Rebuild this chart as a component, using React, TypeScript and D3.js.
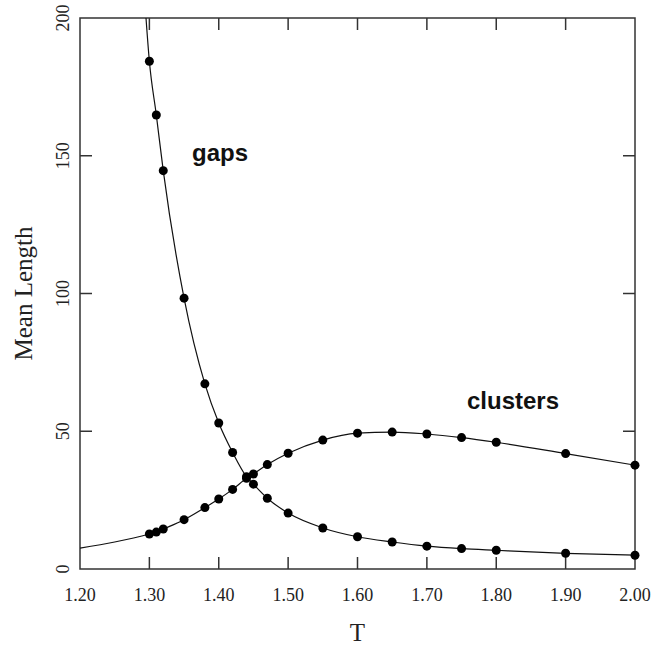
import * as d3 from 'd3'

// temperatures at which points were measured
const temps = [1.30, 1.31, 1.32, 1.35, 1.38, 1.40, 1.42, 1.44, 1.45, 1.47, 1.50, 1.55, 1.60, 1.65, 1.70, 1.75, 1.80, 1.90, 2.00]
const gaps = [184.3, 164.8, 144.6, 98.3, 67.2, 53.0, 42.3, 33.5, 30.8, 25.7, 20.3, 14.9, 11.7, 9.8, 8.3, 7.4, 6.8, 5.7, 5.0]
const clusters = [12.7, 13.4, 14.5, 17.9, 22.3, 25.4, 28.9, 32.9, 34.5, 37.9, 42.0, 46.8, 49.3, 49.7, 49.0, 47.7, 46.0, 41.9, 37.7]

// fitted curve continues beyond the measured points
const gapsLeadT = [1.294]
const gapsLead = [204]
const clustersLeadT = [1.20, 1.25]
const clustersLead = [7.6, 9.8]

const xTicks = [1.2, 1.3, 1.4, 1.5, 1.6, 1.7, 1.8, 1.9, 2.0]
const yTicks = [0, 50, 100, 150, 200]

export default function App() {
  const m = { left: 80, top: 18, right: 635, bottom: 569 }
  const x = d3.scaleLinear().domain([1.2, 2.0]).range([m.left, m.right])
  const y = d3.scaleLinear().domain([0, 200]).range([m.bottom, m.top])
  const line = d3.line<[number, number]>()
    .x(d => x(d[0])).y(d => y(d[1]))
    .curve(d3.curveMonotoneX)

  const gapPts: [number, number][] = temps.map((t, i) => [t, gaps[i]])
  const cluPts: [number, number][] = temps.map((t, i) => [t, clusters[i]])
  const gapLine = [...gapsLeadT.map((t, i) => [t, gapsLead[i]] as [number, number]), ...gapPts]
  const cluLine = [...clustersLeadT.map((t, i) => [t, clustersLead[i]] as [number, number]), ...cluPts]

  const serif = 'Liberation Serif, Times New Roman, serif'
  const sans = 'Liberation Sans, Arial, sans-serif'
  const tk = 12

  return (
    <svg width={670} height={646} style={{ position: 'absolute', left: 0, top: 0, background: '#fff' }}>
      <defs>
        <clipPath id="plot">
          <rect x={m.left} y={m.top} width={m.right - m.left} height={m.bottom - m.top} />
        </clipPath>
      </defs>
      <g stroke="#333" strokeWidth={1.5} fill="none">
        <rect x={m.left} y={m.top} width={m.right - m.left} height={m.bottom - m.top} />
        {xTicks.slice(1, -1).map(t => (
          <g key={t}>
            <line x1={x(t)} x2={x(t)} y1={m.bottom} y2={m.bottom - tk} />
            <line x1={x(t)} x2={x(t)} y1={m.top} y2={m.top + tk} />
          </g>
        ))}
        {yTicks.slice(1, -1).map(v => (
          <g key={v}>
            <line x1={m.left} x2={m.left + tk} y1={y(v)} y2={y(v)} />
            <line x1={m.right} x2={m.right - tk} y1={y(v)} y2={y(v)} />
          </g>
        ))}
      </g>
      <g fontFamily={serif} fontSize={18} fill="#222">
        {xTicks.map(t => (
          <text key={t} x={x(t)} y={601} textAnchor="middle">{t.toFixed(2)}</text>
        ))}
        {yTicks.map(v => (
          <text key={v} transform={`translate(69,${y(v)}) rotate(-90)`} textAnchor="middle">{v}</text>
        ))}
      </g>
      <text x={(m.left + m.right) / 2} y={641} textAnchor="middle" fontFamily={serif} fontSize={25} fill="#222">T</text>
      <text transform={`translate(32,${(227 + 360) / 2}) rotate(-90)`} textAnchor="middle" fontFamily={serif} fontSize={25} fill="#222">Mean Length</text>
      <g clipPath="url(#plot)" fill="none" stroke="#111" strokeWidth={1.2}>
        <path d={line(gapLine) ?? ''} />
        <path d={line(cluLine) ?? ''} />
      </g>
      <g fill="#000">
        {gapPts.map(d => <circle key={'g' + d[0]} cx={x(d[0])} cy={y(d[1])} r={4.5} />)}
        {cluPts.map(d => <circle key={'c' + d[0]} cx={x(d[0])} cy={y(d[1])} r={4.5} />)}
      </g>
      <text x={192} y={161} fontFamily={sans} fontWeight="bold" fontSize={24} fill="#111">gaps</text>
      <text x={467} y={409} fontFamily={sans} fontWeight="bold" fontSize={24} fill="#111">clusters</text>
    </svg>
  )
}
